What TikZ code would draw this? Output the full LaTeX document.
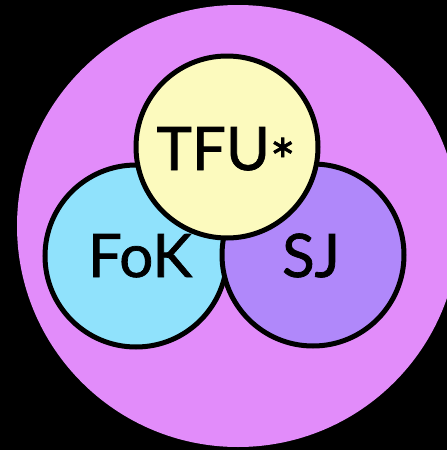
\documentclass[tikz,border=0pt]{standalone}
\usepackage{fontspec}
\setmainfont{Lato}
\newfontfamily\lblfont{Lato}[FakeBold=1.2]
\definecolor{pinkbg}{RGB}{226,140,250}
\definecolor{fokblue}{RGB}{144,226,252}
\definecolor{sjpurple}{RGB}{176,136,250}
\definecolor{tfuyellow}{RGB}{252,250,190}
\tikzset{
  venn/.style={circle, draw=black, line width=5pt, minimum size=182pt, inner sep=0pt},
  lbl/.style={anchor=base, inner sep=0pt, text=black, font=\lblfont\fontsize{60pt}{60pt}\selectfont}
}
\begin{document}
\begin{tikzpicture}[x=1pt,y=-1pt]
\useasboundingbox (0,0) rectangle (447,450);
\fill[black] (0,0) rectangle (447,450);
\begin{scope}
\clip (0,0) rectangle (447,450);
\fill[pinkbg] (238,226) circle (221);
\end{scope}
\node[venn, fill=fokblue] (fok) at (136,256) {};
\node[venn, fill=sjpurple] (sj) at (313,255) {};
\node[venn, fill=tfuyellow] (tfu) at (227,147) {};
\node[lbl] (fokt) at (140,277) {FoK};
\node[lbl] (sjt) at (311,277) {SJ};
\node[lbl] (tfut) at (226,170) {TFU\raisebox{-13pt}{*}};
\end{tikzpicture}
\end{document}
